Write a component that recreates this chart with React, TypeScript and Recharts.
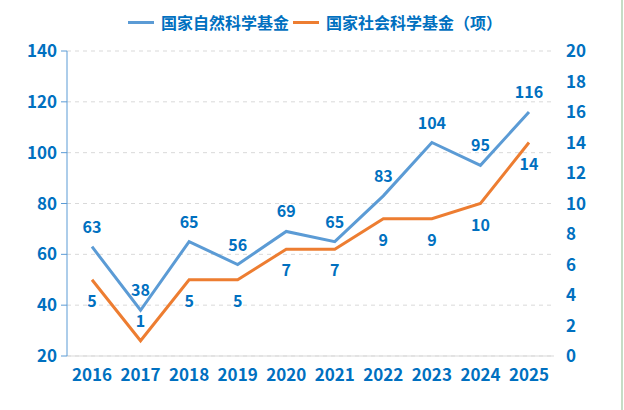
import React from 'react';
import { LineChart, Line, XAxis, YAxis, CartesianGrid, LabelList } from 'recharts';

const years = ['2016', '2017', '2018', '2019', '2020', '2021', '2022', '2023', '2024', '2025'];
const nsfValues = [63, 38, 65, 56, 69, 65, 83, 104, 95, 116];
const sssValues = [5, 1, 5, 5, 7, 7, 9, 9, 10, 14];
const leftTicks = [20, 40, 60, 80, 100, 120, 140];
const rightTicks = [0, 2, 4, 6, 8, 10, 12, 14, 16, 18, 20];
const seriesNames = ['国家自然科学基金', '国家社会科学基金（项）'];
const sssLabelAboveIndex = [1];

const data = years.map((y, i) => ({ year: y, nsf: nsfValues[i], sss: sssValues[i] }));

const BLUE = '#5B9BD5';
const ORANGE = '#ED7D31';
const TEXT = '#0070C0';
const FONT = '"Noto Sans CJK SC", "Noto Sans", sans-serif';

const makeLabel = (kind: 'nsf' | 'sss') => (props: any) => {
  const { x, y, value, index } = props;
  let dy = -21;
  if (kind === 'sss') dy = sssLabelAboveIndex.includes(index) ? -21 : 20;
  return (
    <text
      x={x}
      y={y + dy}
      textAnchor="middle"
      dominantBaseline="central"
      fill={TEXT}
      fontSize={16}
      fontWeight="bold"
      fontFamily={FONT}
    >
      {value}
    </text>
  );
};

const tickStyle = { fill: TEXT, fontSize: 17, fontWeight: 'bold', fontFamily: FONT } as any;

export default function App() {
  return (
    <div style={{ position: 'absolute', left: 0, top: 0, width: 624, height: 410, background: '#fff', overflow: 'hidden' }}>
      <div
        style={{
          position: 'absolute',
          top: 11,
          left: 0,
          width: 630,
          height: 22,
          display: 'flex',
          justifyContent: 'center',
          alignItems: 'center',
          fontFamily: FONT,
          fontSize: 16,
          fontWeight: 'bold',
          color: TEXT,
          whiteSpace: 'nowrap',
        }}
      >
        {[BLUE, ORANGE].map((c, i) => (
          <div key={i} style={{ display: 'flex', alignItems: 'center', marginRight: i === 0 ? 4 : 0 }}>
            <div style={{ width: 26, height: 3, background: c, marginRight: 7 }} />
            <span>{seriesNames[i]}</span>
          </div>
        ))}
      </div>
      <LineChart width={624} height={410} data={data} margin={{ top: 51, right: 0, bottom: 24, left: 0 }}>
        <CartesianGrid yAxisId="left" vertical={false} stroke="#d9d9d9" strokeDasharray="4 4" />
        <XAxis
          dataKey="year"
          height={30}
          padding={{ left: 25, right: 25 }}
          axisLine={{ stroke: '#d9d9d9' }}
          tickLine={false}
          tickSize={0}
          tickMargin={13}
          tick={tickStyle}
          interval={0}
        />
        <YAxis
          yAxisId="left"
          width={67}
          domain={[20, 140]}
          ticks={leftTicks}
          axisLine={{ stroke: BLUE }}
          tickLine={{ stroke: BLUE }}
          tickSize={6}
          tickMargin={4}
          tick={tickStyle}
          interval={0}
        />
        <YAxis
          yAxisId="right"
          orientation="right"
          width={70}
          domain={[0, 20]}
          ticks={rightTicks}
          axisLine={false}
          tickLine={false}
          tickSize={6}
          tickMargin={6}
          tick={tickStyle}
          interval={0}
        />
        <Line yAxisId="left" type="linear" dataKey="nsf" stroke={BLUE} strokeWidth={3} dot={false} isAnimationActive={false}>
          <LabelList dataKey="nsf" content={makeLabel('nsf')} />
        </Line>
        <Line yAxisId="right" type="linear" dataKey="sss" stroke={ORANGE} strokeWidth={3} dot={false} isAnimationActive={false}>
          <LabelList dataKey="sss" content={makeLabel('sss')} />
        </Line>
      </LineChart>
      <div style={{ position: 'absolute', left: 621, top: 0, width: 2, height: 410, background: '#c5dcc5' }} />
    </div>
  );
}
